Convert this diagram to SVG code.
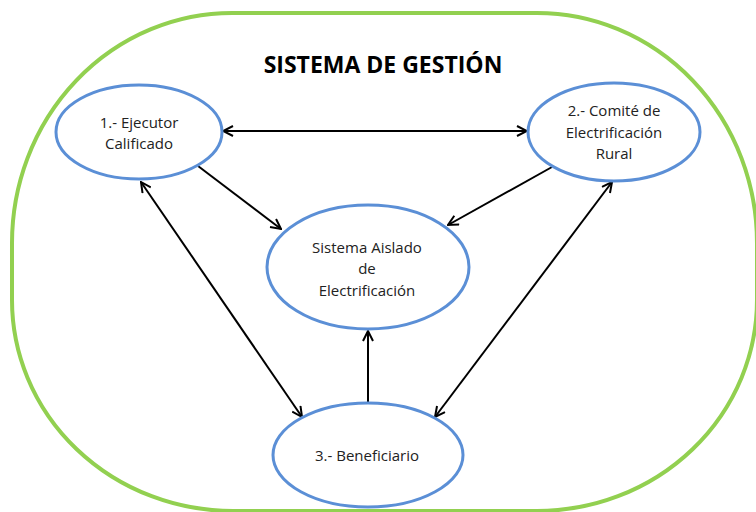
<svg xmlns="http://www.w3.org/2000/svg" width="756" height="512" viewBox="0 0 756 512">
<style>
.node{fill:#fff;stroke:#5B8FD6;stroke-width:3}
.lbl{font-family:"Open Sans","Liberation Sans",sans-serif;font-size:15px;fill:#222;text-anchor:middle}
.title{font-family:"Open Sans","Liberation Sans",sans-serif;font-size:23px;font-weight:bold;fill:#000;text-anchor:middle}
.conn{stroke:#000;stroke-width:2;fill:none}
</style>
<defs>
<marker id="ah" viewBox="0 0 12 12" refX="11" refY="6" markerWidth="12" markerHeight="12" markerUnits="userSpaceOnUse" orient="auto-start-reverse">
<path d="M1,1 L11,6 L1,11" fill="none" stroke="#000" stroke-width="2"/>
</marker>
</defs>
<rect width="756" height="512" fill="#fff"/>
<g id="frame">
<path d="M232,13 H537 A220,230 0 0 1 757,243 V300 A220,211 0 0 1 537,511 H233 A221,211 0 0 1 12,300 V243 A220,230 0 0 1 232,13 Z" fill="none" stroke="#92D050" stroke-width="4"/>
<text class="title" x="383" y="73">SISTEMA DE GESTIÓN</text>
</g>
<g id="connectors">
<line class="conn" x1="223" y1="131" x2="527" y2="131" marker-start="url(#ah)" marker-end="url(#ah)"/>
<line class="conn" x1="198" y1="166" x2="281" y2="229" marker-end="url(#ah)"/>
<line class="conn" x1="552" y1="167" x2="448" y2="225" marker-end="url(#ah)"/>
<line class="conn" x1="141" y1="182" x2="302" y2="417" marker-start="url(#ah)" marker-end="url(#ah)"/>
<line class="conn" x1="612" y1="182" x2="435" y2="417" marker-start="url(#ah)" marker-end="url(#ah)"/>
<line class="conn" x1="368" y1="403" x2="368" y2="331" marker-end="url(#ah)"/>
</g>
<g id="node1">
<ellipse class="node" cx="139" cy="132" rx="83" ry="47"/>
<text class="lbl" x="139" y="128">1.- Ejecutor</text>
<text class="lbl" x="139" y="149">Calificado</text>
</g>
<g id="node2">
<ellipse class="node" cx="614" cy="132" rx="86" ry="49"/>
<text class="lbl" x="614" y="116">2.- Comité de</text>
<text class="lbl" x="614" y="138">Electrificación</text>
<text class="lbl" x="614" y="159">Rural</text>
</g>
<g id="node3">
<ellipse class="node" cx="368" cy="267" rx="101" ry="62"/>
<text class="lbl" x="367" y="253">Sistema Aislado</text>
<text class="lbl" x="367" y="274">de</text>
<text class="lbl" x="367" y="296">Electrificación</text>
</g>
<g id="node4">
<ellipse class="node" cx="368" cy="455" rx="95" ry="52"/>
<text class="lbl" x="367" y="461">3.- Beneficiario</text>
</g>
</svg>
